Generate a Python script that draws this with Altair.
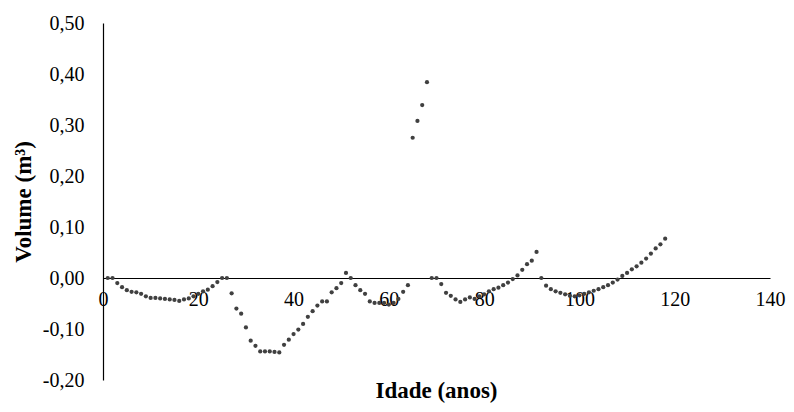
import altair as alt
import pandas as pd

ages = list(range(1, 119))
volumes = [
    0.000, 0.000, -0.010, -0.018, -0.024, -0.027, -0.028, -0.031, -0.036, -0.039,
    -0.039, -0.040, -0.041, -0.042, -0.043, -0.045, -0.042, -0.040, -0.036, -0.031,
    -0.026, -0.023, -0.016, -0.008, 0.000, 0.000, -0.030, -0.060, -0.070, -0.097,
    -0.123, -0.133, -0.144, -0.144, -0.144, -0.145, -0.146, -0.131, -0.121, -0.110,
    -0.101, -0.090, -0.076, -0.065, -0.054, -0.046, -0.046, -0.028, -0.020, -0.010,
    0.010, 0.000, -0.014, -0.024, -0.031, -0.046, -0.049, -0.049, -0.049, -0.052,
    -0.049, -0.041, -0.027, -0.014, 0.275, 0.308, 0.339, 0.384, 0.000, 0.000,
    -0.012, -0.029, -0.035, -0.042, -0.047, -0.042, -0.038, -0.041, -0.036, -0.032,
    -0.026, -0.022, -0.019, -0.014, -0.009, -0.002, 0.005, 0.016, 0.027, 0.034,
    0.051, 0.000, -0.015, -0.022, -0.026, -0.029, -0.032, -0.035, -0.036, -0.034,
    -0.031, -0.028, -0.025, -0.022, -0.018, -0.014, -0.009, -0.003, 0.004, 0.010,
    0.017, 0.023, 0.030, 0.038, 0.048, 0.058, 0.066, 0.077,
]
x_ticks = [0, 20, 40, 60, 80, 100, 120, 140]
y_ticks = [-0.2, -0.1, 0.0, 0.1, 0.2, 0.3, 0.4, 0.5]

df = pd.DataFrame({"Idade": ages, "Volume": volumes})

W, H = 667, 357
ymin, ymax = -0.2, 0.5
zero_offset = -H * (0 - ymin) / (ymax - ymin)

FONT = "Liberation Serif"

chart = alt.Chart(df).mark_circle(size=18, color="#404040", opacity=1).encode(
    x=alt.X("Idade:Q",
            scale=alt.Scale(domain=[0, 140], nice=False, zero=False),
            axis=alt.Axis(values=x_ticks, title=None, grid=False, ticks=False,
                          offset=zero_offset, domainColor="#000000", domainWidth=1.2,
                          labelFont=FONT, labelFontSize=20, labelColor="#000000",
                          labelPadding=11, labelFlush=False)),
    y=alt.Y("Volume:Q",
            scale=alt.Scale(domain=[ymin, ymax], nice=False, zero=False),
            axis=alt.Axis(values=y_ticks, title="Volume (m³)", grid=False, ticks=False,
                          domainColor="#000000", domainWidth=1.2,
                          labelFont=FONT, labelFontSize=20, labelColor="#000000",
                          labelPadding=19, labelFlush=False,
                          labelExpr="(datum.value < -0.0001 ? '-' : '') + replace(format(abs(datum.value), '.2f'), '.', ',')",
                          titleFont=FONT, titleFontSize=23, titleFontWeight="bold",
                          titleColor="#000000", titlePadding=7)),
).properties(
    width=W, height=H,
    title=alt.TitleParams(text="Idade (anos)", orient="bottom", anchor="middle",
                          frame="group", offset=-10, font=FONT, fontSize=23,
                          fontWeight="bold", color="#000000"),
    padding={"left": 95, "top": 15, "right": 16, "bottom": 24},
    autosize="none",
).configure_view(stroke=None)

chart.save("out.html", embed_options={"renderer": "svg", "actions": False})
